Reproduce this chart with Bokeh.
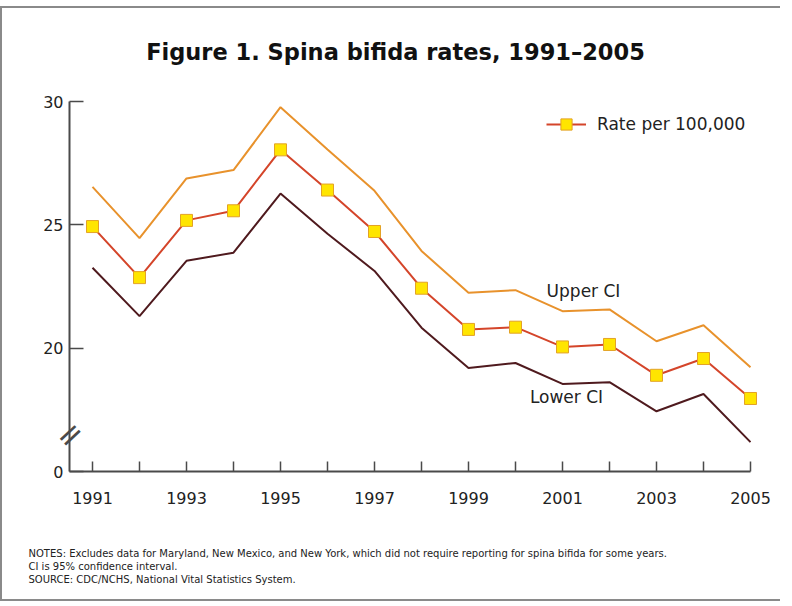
from bokeh.plotting import figure
from bokeh.models import Label, Legend, LegendItem, FixedTicker
from bokeh.embed import file_html
from bokeh.resources import INLINE

# ---- data ----
years = list(range(1991, 2006))
rate = [24.93, 22.86, 25.18, 25.57, 28.04, 26.41, 24.73, 22.43, 20.76, 20.85,
        20.05, 20.15, 18.90, 19.58, 17.96]
upper_ci = [26.54, 24.46, 26.88, 27.22, 29.77, 28.05, 26.38, 23.94, 22.25, 22.35,
            21.50, 21.57, 20.28, 20.93, 19.23]
lower_ci = [23.26, 21.30, 23.54, 23.87, 26.27, 24.64, 23.13, 20.83, 19.20, 19.40,
            18.55, 18.62, 17.44, 18.14, 16.19]
y_ticks = [15, 20, 25, 30]
y_tick_labels = ["0", "20", "25", "30"]
x_label_years = [1991, 1993, 1995, 1997, 1999, 2001, 2003, 2005]

title_text = "Figure 1. Spina bifida rates, 1991\u20132005"
notes = [
    "NOTES: Excludes data for Maryland, New Mexico, and New York, which did not require reporting for spina bifida for some years.",
    "CI is 95% confidence interval.",
    "SOURCE: CDC/NCHS, National Vital Statistics System.",
]

# ---- layout geometry (page pixels) ----
FONT = "DejaVu Sans"
OX, OY = 2, 8                      # where the figure content starts on the page
fig_w, fig_h = 780, 595
axis_px = 69                       # page x of the y axis
axis_py = 471                      # page y of the x axis
px_per_year = 47.0
px_per_unit = 370 / 15.0
x0 = years[0] - (92 - OX) / px_per_year
x1 = x0 + fig_w / px_per_year
xa = years[0] - (92 - axis_px) / px_per_year
y_base = y_ticks[0]
y1 = y_ticks[-1] + (101 - OY) / px_per_unit
y0 = y_base - (OY + fig_h - axis_py) / px_per_unit

def sx(px):
    return x0 + (px - OX) / px_per_year

def sy(py):
    return y_base + (axis_py - py) / px_per_unit

p = figure(width=fig_w, height=fig_h, x_range=(x0, x1), y_range=(y0, y1),
           output_backend="svg", toolbar_location=None,
           min_border_left=0, min_border_right=0, min_border_top=0, min_border_bottom=0)
p.outline_line_color = None
p.grid.grid_line_color = None
p.background_fill_color = "white"
p.border_fill_color = "white"

axis_color = "#4a4a4a"
for ax in (p.xaxis[0], p.yaxis[0]):
    ax.axis_line_color = axis_color
    ax.axis_line_width = 2
    ax.major_tick_line_color = axis_color
    ax.major_tick_line_width = 1.5
    ax.major_tick_out = 0
    ax.minor_tick_line_color = None
    ax.major_label_text_font = FONT
    ax.major_label_text_font_size = "16px"
    ax.major_label_text_color = "#222222"

p.xaxis.fixed_location = y_base
p.xaxis.ticker = FixedTicker(ticks=years)
p.xaxis.major_label_overrides = {y: (str(y) if y in x_label_years else "") for y in years}
p.xaxis.bounds = (xa, years[-1])
p.xaxis.major_tick_in = 10
p.xaxis.major_label_standoff = 20

p.yaxis.fixed_location = xa
p.yaxis.ticker = FixedTicker(ticks=y_ticks)
p.yaxis.major_label_overrides = dict(zip(y_ticks, y_tick_labels))
p.yaxis.bounds = (y_ticks[0], y_ticks[-1])
p.yaxis.major_tick_in = 14
p.yaxis.major_label_standoff = 6

# ---- series ----
p.line(years, upper_ci, line_color="#E8922C", line_width=2)
p.line(years, lower_ci, line_color="#4F1A1E", line_width=2)
rate_line = p.line(years, rate, line_color="#D4452A", line_width=2)
rate_pts = p.scatter(years, rate, marker="square", size=12,
                     fill_color="#FFE500", line_color="#E3A226", line_width=1)

legend = Legend(items=[LegendItem(label="Rate per 100,000", renderers=[rate_line, rate_pts])],
                location=(546 - OX, OY + fig_h - 124 - 14),
                glyph_width=40, glyph_height=28, label_height=28,
                label_standoff=11, padding=0, margin=0, spacing=0,
                border_line_color=None, background_fill_alpha=0,
                label_text_font=FONT, label_text_font_size="17px",
                label_text_color="#222222")
p.add_layout(legend)

# ---- annotations ----
p.add_layout(Label(x=sx(395), y=sy(51), text=title_text, text_align="center",
                   text_baseline="middle", text_font=FONT, text_font_size="22.5px",
                   text_font_style="bold", text_color="#111111"))
p.add_layout(Label(x=sx(583), y=sy(290), text="Upper CI", text_align="center",
                   text_baseline="middle", text_font=FONT, text_font_size="17px",
                   text_color="#222222"))
p.add_layout(Label(x=sx(566), y=sy(396), text="Lower CI", text_align="center",
                   text_baseline="middle", text_font=FONT, text_font_size="17px",
                   text_color="#222222"))
# axis break mark
p.add_layout(Label(x=xa, y=sy(434), text="=", text_align="center", text_baseline="middle",
                   angle=43, angle_units="deg", text_font=FONT, text_font_size="32px",
                   text_color=axis_color))
for i, line in enumerate(notes):
    p.add_layout(Label(x=sx(28), y=sy(553 + 13 * i), text=line, text_align="left",
                       text_baseline="middle", text_font=FONT, text_font_size="10px",
                       text_color="#222222"))

p.styles = {"margin-top": "6px",
            "border-top": "2px solid #8a8a8a", "border-left": "2px solid #8a8a8a",
            "border-bottom": "2px solid #8a8a8a"}

open("out.html", "w").write(file_html(p, INLINE))
